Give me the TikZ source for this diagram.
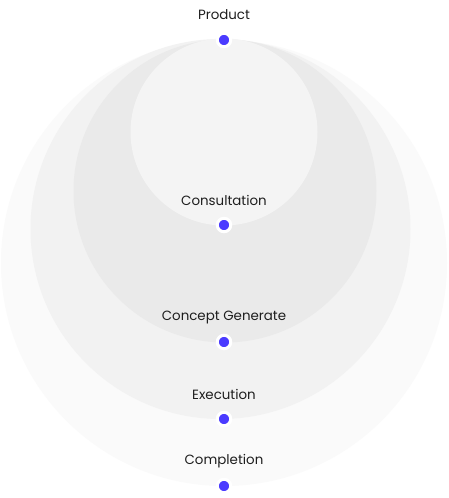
\documentclass[tikz,border=0pt]{standalone}
\usepackage{fontspec}
\setmainfont{Poppins}
\definecolor{ringA}{HTML}{FAFAFA}
\definecolor{ringB}{HTML}{F2F2F2}
\definecolor{ringC}{HTML}{EAEAEA}
\definecolor{ringD}{HTML}{F4F4F4}
\definecolor{dotblue}{HTML}{4B3BFF}
\definecolor{labelgray}{HTML}{1E1E1E}
\begin{document}
\begin{tikzpicture}[x=1pt,y=1pt,
  stagedot/.style={circle,fill=dotblue,draw=white,line width=3pt,minimum size=13.5pt,inner sep=0pt},
  stagelabel/.style={font=\fontsize{13.4}{15}\selectfont,text=labelgray,inner sep=0pt}]
\useasboundingbox (0,0) rectangle (449,498);
\fill[white] (0,0) rectangle (449,498);
% circles
\fill[ringA] (224,498-263) circle (223);
\fill[ringB] (220.5,498-229) circle (190);
\fill[ringC] (225,498-191) circle (151.5);
\fill[ringD] (224,498-132) circle (93.5);
% dots
\node[stagedot] (d1) at (224,498-40) {};
\node[stagedot] (d2) at (224,498-225) {};
\node[stagedot] (d3) at (224,498-342) {};
\node[stagedot] (d4) at (224,498-419) {};
\node[stagedot] (d5) at (224,498-486) {};
% labels
\node[stagelabel] (l1) at (224,498-14.5) {Product};
\node[stagelabel] (l2) at (224,498-200.5) {Consultation};
\node[stagelabel] (l3) at (224,498-317.5) {Concept Generate};
\node[stagelabel] (l4) at (224,498-394.5) {Execution};
\node[stagelabel] (l5) at (224,498-461.5) {Completion};
\end{tikzpicture}
\end{document}
